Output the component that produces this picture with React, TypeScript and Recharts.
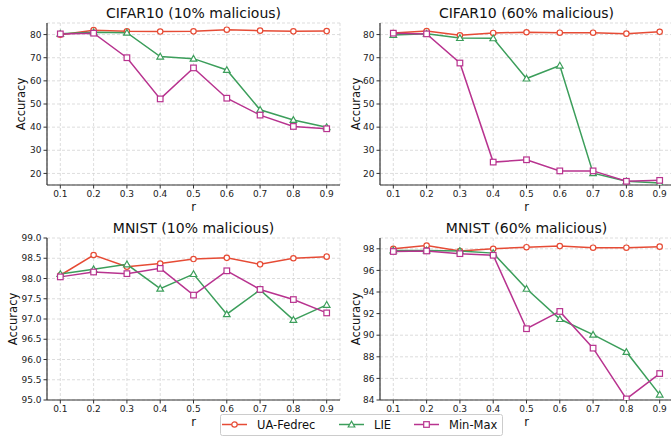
import { LineChart, Line, XAxis, YAxis, CartesianGrid, Label } from 'recharts';

const rValues = [0.1, 0.2, 0.3, 0.4, 0.5, 0.6, 0.7, 0.8, 0.9];

const cifar10Ua = [79.9, 81.9, 81.4, 81.3, 81.4, 82.1, 81.7, 81.4, 81.5];
const cifar10Lie = [80.4, 81.0, 80.8, 70.5, 69.6, 64.7, 47.5, 43.1, 40.0];
const cifar10Mm = [80.3, 80.6, 70.0, 52.2, 65.6, 52.5, 45.2, 40.3, 39.3];

const cifar60Ua = [80.7, 81.5, 79.7, 80.7, 81.0, 80.8, 80.8, 80.4, 81.2];
const cifar60Lie = [79.8, 80.4, 78.5, 78.4, 61.0, 66.6, 20.1, 16.6, 15.9];
const cifar60Mm = [80.6, 80.3, 67.7, 24.9, 25.9, 21.1, 21.1, 16.6, 17.0];

const mnist10Ua = [98.08, 98.58, 98.29, 98.37, 98.48, 98.51, 98.35, 98.5, 98.54];
const mnist10Lie = [98.11, 98.23, 98.35, 97.75, 98.11, 97.12, 97.72, 96.98, 97.35];
const mnist10Mm = [98.04, 98.16, 98.12, 98.25, 97.59, 98.19, 97.73, 97.48, 97.15];

const mnist60Ua = [98.0, 98.3, 97.8, 98.0, 98.15, 98.25, 98.1, 98.1, 98.2];
const mnist60Lie = [97.85, 97.85, 97.8, 97.6, 94.3, 91.5, 90.05, 88.45, 84.5];
const mnist60Mm = [97.75, 97.8, 97.55, 97.4, 90.6, 92.2, 88.8, 84.1, 86.45];

const cifarTicks = [20, 30, 40, 50, 60, 70, 80];
const mnist10Ticks = [95, 95.5, 96, 96.5, 97, 97.5, 98, 98.5, 99];
const mnist60Ticks = [84, 86, 88, 90, 92, 94, 96, 98];

const seriesNames = ['UA-Fedrec', 'LIE', 'Min-Max'];

const RED = '#E64B35';
const GREEN = '#3C9E5B';
const MAGENTA = '#B8338F';
const FONT = '"DejaVu Sans", sans-serif';
const SPINE = '#333';

type Shape = 'circle' | 'triangle' | 'square';

function markerPath(shape: Shape, cx: number, cy: number, color: string, key?: string | number) {
  if (shape === 'circle') {
    return <circle key={key} cx={cx} cy={cy} r={2.7} fill="#fff" stroke={color} strokeWidth={1.2} />;
  }
  if (shape === 'square') {
    return <rect key={key} x={cx - 2.8} y={cy - 2.8} width={5.6} height={5.6} fill="#fff" stroke={color} strokeWidth={1.2} />;
  }
  const s = 3.3;
  return (
    <polygon
      key={key}
      points={`${cx},${cy - s} ${cx - s},${cy + s * 0.75} ${cx + s},${cy + s * 0.75}`}
      fill="#fff"
      stroke={color}
      strokeWidth={1.2}
    />
  );
}

const makeDot = (shape: Shape, color: string) => (props: any) => {
  const { cx, cy, index } = props;
  if (cx == null || cy == null) return <g key={index} />;
  return markerPath(shape, cx, cy, color, index);
};

interface PanelProps {
  title: string;
  ua: number[];
  lie: number[];
  mm: number[];
  domain: [number, number];
  ticks: number[];
  fmt: (v: number) => string;
  left: number;
  top: number;
  labelDx: number;
}

function Panel({ title, ua, lie, mm, domain, ticks, fmt, left, top, labelDx }: PanelProps) {
  const data = rValues.map((r, i) => ({ r, ua: ua[i], lie: lie[i], mm: mm[i] }));
  const tickStyle = { fontSize: 9, fill: '#222', fontFamily: FONT };
  return (
    <div style={{ position: 'absolute', left, top, width: 345, height: 215 }}>
      <div
        style={{
          position: 'absolute',
          left: 47,
          width: 293,
          top: 6,
          textAlign: 'center',
          fontSize: 14,
          lineHeight: '15px',
          fontFamily: FONT,
          color: '#111',
          whiteSpace: 'nowrap',
        }}
      >
        {title}
      </div>
      <LineChart width={345} height={215} data={data} margin={{ top: 23, right: 5, left: 0, bottom: 0 }}>
        <CartesianGrid stroke="#d4d4d4" strokeDasharray="3 2" strokeWidth={0.8} />
        <XAxis
          dataKey="r"
          type="number"
          domain={[0.06, 0.94]}
          ticks={rValues}
          interval={0}
          tickFormatter={(v: number) => v.toFixed(1)}
          height={30}
          tickSize={3.5}
          tickMargin={2}
          tick={tickStyle}
          axisLine={{ stroke: SPINE, strokeWidth: 1.2 }}
          tickLine={{ stroke: SPINE }}
        >
          <Label value="r" position="insideBottom" offset={4} style={{ fontSize: 11.5, fill: '#111', fontFamily: FONT }} />
        </XAxis>
        <XAxis
          xAxisId="top"
          orientation="top"
          dataKey="r"
          type="number"
          domain={[0.06, 0.94]}
          height={0}
          tick={false}
          tickLine={false}
          axisLine={{ stroke: SPINE, strokeWidth: 1.2 }}
        />
        <YAxis
          type="number"
          domain={domain}
          ticks={ticks}
          interval={0}
          allowDataOverflow
          tickFormatter={fmt}
          width={47}
          tickSize={3.5}
          tickMargin={2}
          tick={tickStyle}
          axisLine={{ stroke: SPINE, strokeWidth: 1.2 }}
          tickLine={{ stroke: SPINE }}
        >
          <Label
            value="Accuracy"
            angle={-90}
            position="center"
            dx={labelDx}
            style={{ fontSize: 11.5, fill: '#111', fontFamily: FONT, textAnchor: 'middle' }}
          />
        </YAxis>
        <YAxis
          yAxisId="right"
          orientation="right"
          type="number"
          domain={domain}
          width={0}
          tick={false}
          tickLine={false}
          axisLine={{ stroke: SPINE, strokeWidth: 1.2 }}
        />
        <Line
          type="linear"
          dataKey="ua"
          name={seriesNames[0]}
          stroke={RED}
          strokeWidth={1.5}
          dot={makeDot('circle', RED)}
          isAnimationActive={false}
        />
        <Line
          type="linear"
          dataKey="lie"
          name={seriesNames[1]}
          stroke={GREEN}
          strokeWidth={1.5}
          dot={makeDot('triangle', GREEN)}
          isAnimationActive={false}
        />
        <Line
          type="linear"
          dataKey="mm"
          name={seriesNames[2]}
          stroke={MAGENTA}
          strokeWidth={1.5}
          dot={makeDot('square', MAGENTA)}
          isAnimationActive={false}
        />
      </LineChart>
    </div>
  );
}

function LegendBox() {
  const items: { name: string; color: string; shape: Shape; x: number }[] = [
    { name: seriesNames[0], color: RED, shape: 'circle', x: 2 },
    { name: seriesNames[1], color: GREEN, shape: 'triangle', x: 119 },
    { name: seriesNames[2], color: MAGENTA, shape: 'square', x: 194 },
  ];
  return (
    <svg style={{ position: 'absolute', left: 220, top: 414 }} width={283} height={22}>
      <rect x={0.5} y={0.5} width={282} height={21} rx={2} fill="#fff" stroke="#ccc" />
      {items.map((it) => (
        <g key={it.name}>
          <line x1={it.x} x2={it.x + 25} y1={10.5} y2={10.5} stroke={it.color} strokeWidth={1.5} />
          {markerPath(it.shape, it.x + 12.5, 10.5, it.color)}
          <text x={it.x + 35} y={14.8} fontSize={11.5} fontFamily={FONT} fill="#111">
            {it.name}
          </text>
        </g>
      ))}
    </svg>
  );
}

export default function App() {
  const int = (v: number) => String(v);
  const one = (v: number) => v.toFixed(1);
  return (
    <div
      style={{
        position: 'absolute',
        left: 0,
        top: 0,
        width: 671,
        height: 436,
        overflow: 'hidden',
        background: '#fff',
      }}
    >
      <Panel title="CIFAR10 (10% malicious)" ua={cifar10Ua} lie={cifar10Lie} mm={cifar10Mm} domain={[15, 85]} ticks={cifarTicks} fmt={int} left={0} top={0} labelDx={-2.5} />
      <Panel title="CIFAR10 (60% malicious)" ua={cifar60Ua} lie={cifar60Lie} mm={cifar60Mm} domain={[15, 85]} ticks={cifarTicks} fmt={int} left={333} top={0} labelDx={-1} />
      <Panel title="MNIST (10% malicious)" ua={mnist10Ua} lie={mnist10Lie} mm={mnist10Mm} domain={[95, 99]} ticks={mnist10Ticks} fmt={one} left={0} top={215} labelDx={-10.8} />
      <Panel title="MNIST (60% malicious)" ua={mnist60Ua} lie={mnist60Lie} mm={mnist60Mm} domain={[84, 99]} ticks={mnist60Ticks} fmt={int} left={333} top={215} labelDx={-1} />
      <LegendBox />
    </div>
  );
}
